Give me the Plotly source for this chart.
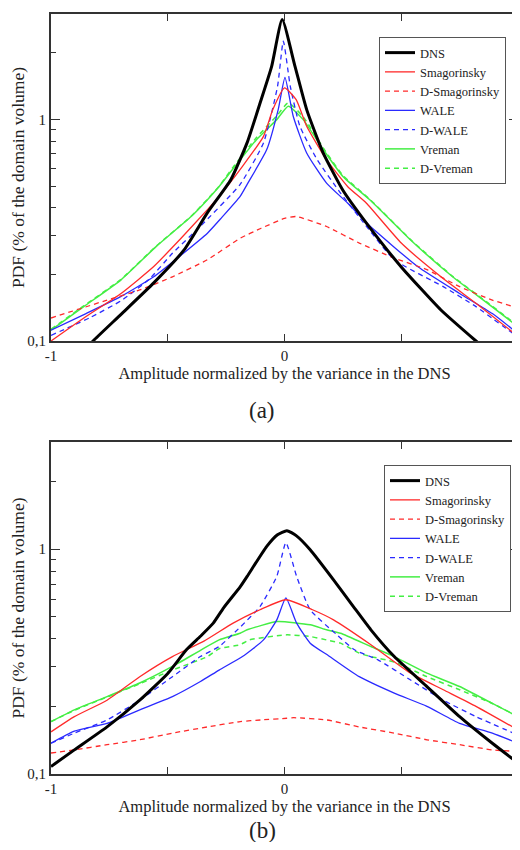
import plotly.graph_objects as go

# ---------------- data: panel (a) ----------------
dns_a_x = [-0.85, -0.82, -0.70, -0.56, -0.43, -0.33, -0.23, -0.16, -0.10, -0.055, -0.01, 0.045, 0.095, 0.165, 0.25, 0.35, 0.50, 0.67, 0.82, 0.85]
dns_a_y = [0.092, 0.100, 0.132, 0.183, 0.258, 0.380, 0.535, 0.787, 1.23, 1.74, 2.83, 1.74, 1.11, 0.71, 0.48, 0.342, 0.216, 0.138, 0.100, 0.094]

smag_a_x = [-1.0, -0.85, -0.70, -0.56, -0.45, -0.33, -0.28, -0.18, -0.09, -0.05, 0.0, 0.05, 0.095, 0.18, 0.27, 0.35, 0.50, 0.67, 0.82, 1.0]
smag_a_y = [0.100, 0.129, 0.164, 0.217, 0.286, 0.392, 0.45, 0.615, 0.84, 1.11, 1.39, 1.23, 0.933, 0.659, 0.499, 0.42, 0.277, 0.195, 0.148, 0.105]

dsmag_a_x = [-1.0, -0.76, -0.62, -0.48, -0.33, -0.19, -0.10, 0.0, 0.05, 0.18, 0.32, 0.47, 0.61, 0.75, 0.89, 1.0]
dsmag_a_y = [0.127, 0.153, 0.170, 0.195, 0.233, 0.291, 0.323, 0.358, 0.365, 0.329, 0.277, 0.237, 0.210, 0.176, 0.153, 0.141]

wale_a_x = [-1.0, -0.85, -0.70, -0.56, -0.45, -0.33, -0.27, -0.19, -0.16, -0.076, -0.027, 0.002, 0.038, 0.095, 0.18, 0.27, 0.36, 0.57, 0.75, 0.89, 1.0]
wale_a_y = [0.112, 0.133, 0.159, 0.195, 0.241, 0.307, 0.36, 0.45, 0.51, 0.732, 1.11, 1.55, 1.03, 0.707, 0.517, 0.42, 0.335, 0.217, 0.164, 0.133, 0.108]

dwale_a_x = [-1.0, -0.83, -0.70, -0.58, -0.48, -0.36, -0.19, -0.09, -0.03, -0.005, 0.025, 0.066, 0.14, 0.24, 0.34, 0.47, 0.68, 0.82, 1.0]
dwale_a_y = [0.106, 0.128, 0.152, 0.19, 0.249, 0.33, 0.51, 0.785, 1.41, 2.26, 1.41, 0.933, 0.659, 0.466, 0.341, 0.233, 0.176, 0.143, 0.104]

vrem_a_x = [-1.0, -0.86, -0.70, -0.55, -0.40, -0.33, -0.28, -0.22, -0.12, -0.033, 0.016, 0.08, 0.166, 0.25, 0.37, 0.54, 0.72, 0.87, 1.0]
vrem_a_y = [0.112, 0.143, 0.189, 0.267, 0.365, 0.435, 0.499, 0.60, 0.812, 1.0, 1.15, 1.0, 0.732, 0.554, 0.43, 0.286, 0.195, 0.148, 0.116]

dvrem_a_x = [-1.0, -0.86, -0.70, -0.55, -0.40, -0.33, -0.28, -0.22, -0.12, -0.033, 0.016, 0.08, 0.166, 0.25, 0.37, 0.54, 0.72, 0.87, 1.0]
dvrem_a_y = [0.113, 0.144, 0.190, 0.268, 0.366, 0.437, 0.50, 0.61, 0.83, 1.04, 1.19, 1.03, 0.745, 0.56, 0.432, 0.287, 0.196, 0.149, 0.117]

# ---------------- data: panel (b) ----------------
dns_b_x = [-1.0, -0.90, -0.76, -0.62, -0.50, -0.42, -0.36, -0.305, -0.26, -0.19, -0.16, -0.076, -0.03, 0.01, 0.05, 0.11, 0.21, 0.295, 0.37, 0.47, 0.61, 0.75, 0.89, 1.0]
dns_b_y = [0.108, 0.128, 0.162, 0.213, 0.28, 0.357, 0.41, 0.469, 0.55, 0.68, 0.757, 1.03, 1.16, 1.21, 1.15, 0.995, 0.731, 0.556, 0.438, 0.333, 0.245, 0.18, 0.137, 0.112]

smag_b_x = [-1.0, -0.90, -0.76, -0.62, -0.48, -0.345, -0.22, -0.105, 0.006, 0.12, 0.21, 0.37, 0.54, 0.68, 0.82, 1.0]
smag_b_y = [0.154, 0.18, 0.213, 0.271, 0.333, 0.39, 0.469, 0.538, 0.596, 0.538, 0.485, 0.376, 0.281, 0.237, 0.2, 0.157]

dsmag_b_x = [-1.0, -0.90, -0.76, -0.62, -0.48, -0.33, -0.19, -0.10, 0.01, 0.04, 0.18, 0.32, 0.47, 0.61, 0.75, 0.89, 1.0]
dsmag_b_y = [0.124, 0.128, 0.135, 0.142, 0.152, 0.162, 0.171, 0.174, 0.177, 0.178, 0.174, 0.162, 0.152, 0.142, 0.135, 0.128, 0.126]

wale_b_x = [-1.0, -0.90, -0.76, -0.62, -0.48, -0.36, -0.28, -0.18, -0.09, -0.033, 0.006, 0.052, 0.11, 0.19, 0.32, 0.47, 0.61, 0.75, 0.89, 1.0]
wale_b_y = [0.137, 0.155, 0.168, 0.193, 0.221, 0.258, 0.29, 0.333, 0.395, 0.485, 0.607, 0.469, 0.382, 0.335, 0.271, 0.229, 0.2, 0.168, 0.152, 0.137]

dwale_b_x = [-1.0, -0.90, -0.76, -0.62, -0.48, -0.36, -0.28, -0.19, -0.105, -0.033, 0.006, 0.052, 0.11, 0.22, 0.30, 0.40, 0.54, 0.68, 0.82, 1.0]
dwale_b_y = [0.137, 0.152, 0.174, 0.213, 0.271, 0.333, 0.369, 0.45, 0.556, 0.757, 1.07, 0.757, 0.538, 0.42, 0.357, 0.322, 0.262, 0.213, 0.18, 0.149]

vrem_b_x = [-1.0, -0.90, -0.76, -0.62, -0.48, -0.36, -0.28, -0.19, -0.16, -0.03, 0.11, 0.18, 0.24, 0.37, 0.47, 0.61, 0.75, 0.89, 1.0]
vrem_b_y = [0.171, 0.193, 0.221, 0.254, 0.301, 0.355, 0.395, 0.423, 0.438, 0.477, 0.461, 0.438, 0.423, 0.369, 0.333, 0.281, 0.245, 0.206, 0.18]

dvrem_b_x = [-1.0, -0.90, -0.76, -0.62, -0.48, -0.33, -0.28, -0.19, -0.15, 0.01, 0.11, 0.18, 0.24, 0.32, 0.37, 0.47, 0.61, 0.75, 0.89, 1.0]
dvrem_b_y = [0.171, 0.192, 0.220, 0.252, 0.29, 0.333, 0.361, 0.376, 0.395, 0.416, 0.409, 0.395, 0.382, 0.345, 0.333, 0.315, 0.271, 0.237, 0.206, 0.18]

names = ["DNS", "Smagorinsky", "D-Smagorinsky", "WALE", "D-WALE", "Vreman", "D-Vreman"]
x_ticks = [-1, -0.5, 0, 0.5, 1]
x_ticktext = ["-1", "", "0", "", "1"]
y_major = [0.1, 1]
y_major_text = ["0,1", "1"]
y_minor = [0.2, 0.3, 0.4, 0.5, 0.6, 0.7, 0.8, 0.9, 2, 3]

RED = "#ff2a2a"
BLUE = "#2a2aff"
GREEN = "#44ee44"
styles = [
    dict(color="black", width=3, dash="solid"),
    dict(color=RED, width=1.3, dash="solid"),
    dict(color=RED, width=1.3, dash="5px,4px"),
    dict(color=BLUE, width=1.3, dash="solid"),
    dict(color=BLUE, width=1.3, dash="5px,4px"),
    dict(color=GREEN, width=1.5, dash="solid"),
    dict(color=GREEN, width=1.5, dash="5px,4px"),
]

panel_a = [(dns_a_x, dns_a_y), (smag_a_x, smag_a_y), (dsmag_a_x, dsmag_a_y),
           (wale_a_x, wale_a_y), (dwale_a_x, dwale_a_y), (vrem_a_x, vrem_a_y), (dvrem_a_x, dvrem_a_y)]
panel_b = [(dns_b_x, dns_b_y), (smag_b_x, smag_b_y), (dsmag_b_x, dsmag_b_y),
           (wale_b_x, wale_b_y), (dwale_b_x, dwale_b_y), (vrem_b_x, vrem_b_y), (dvrem_b_x, dvrem_b_y)]

fig = go.Figure()
order = [6, 5, 4, 3, 2, 1, 0]  # DNS drawn last (on top)
for i in order:
    x, y = panel_a[i]
    fig.add_trace(go.Scatter(x=x, y=y, mode="lines", name=names[i], line=dict(shape="spline", smoothing=0.5, **styles[i]),
                             xaxis="x", yaxis="y", legend="legend", legendrank=i))
for i in order:
    x, y = panel_b[i]
    fig.add_trace(go.Scatter(x=x, y=y, mode="lines", name=names[i], line=dict(shape="spline", smoothing=0.5, **styles[i]),
                             xaxis="x2", yaxis="y2", legend="legend2", legendrank=i))

FONT = "Liberation Serif"
AX = "#333333"
xcommon = dict(range=[-1, 1], tickvals=x_ticks, ticktext=x_ticktext, ticks="inside", ticklen=7,
               tickwidth=1, tickcolor=AX, showline=True, linecolor=AX, linewidth=2, mirror="allticks",
               showgrid=False, zeroline=False, automargin=False,
               tickfont=dict(family=FONT, size=15, color="#222"),
               title=dict(text="Amplitude normalized by the variance in the DNS",
                          font=dict(family=FONT, size=16.5, color="#222"), standoff=0))
ycommon = dict(type="log", range=[-1, 0.4771], tickvals=y_major, ticktext=y_major_text, ticks="inside",
               ticklen=9, tickwidth=1, tickcolor=AX, showline=True, linecolor=AX, linewidth=2,
               mirror="allticks", showgrid=False, zeroline=False, automargin=False,
               minor=dict(tickmode="array", tickvals=y_minor, ticks="inside", ticklen=5, tickcolor=AX, showgrid=False),
               tickfont=dict(family=FONT, size=15, color="#222"),
               title=dict(text="PDF (% of the domain volume)", font=dict(family=FONT, size=17.5, color="#222"),
                          standoff=0))

# page has an 8px body margin, so the figure is sized/offset to compensate
OFF = 8
W, H = 520 - OFF, 850 - 2 * OFF
plot_h = 774 - 14
fig.update_layout(
    width=W, height=H,
    margin=dict(l=51 - OFF, r=W - (518 - OFF), t=14 - OFF, b=H - (774 - OFF)),
    paper_bgcolor="white", plot_bgcolor="white",
    xaxis=dict(domain=[0, 1], anchor="y", **xcommon),
    yaxis=dict(domain=[(774 - 341) / plot_h, 1], anchor="x", **ycommon),
    xaxis2=dict(domain=[0, 1], anchor="y2", **xcommon),
    yaxis2=dict(domain=[0, (774 - 442) / plot_h], anchor="x2", **ycommon),
    legend=dict(x=(379 - 51) / 467, y=(774 - 37) / plot_h, xanchor="left", yanchor="top", bgcolor="white",
                bordercolor="#555", borderwidth=1, font=dict(family=FONT, size=12.5, color="#222"),
                itemwidth=30, tracegroupgap=0),
    legend2=dict(x=(384 - 51) / 467, y=(774 - 465) / plot_h, xanchor="left", yanchor="top", bgcolor="white",
                 bordercolor="#555", borderwidth=1, font=dict(family=FONT, size=12.5, color="#222"),
                 itemwidth=30, tracegroupgap=0),
    annotations=[
        dict(text="(a)", x=(262 - 51) / 467, xref="paper", y=(774 - 410) / plot_h, yref="paper",
             yanchor="middle", showarrow=False, font=dict(family=FONT, size=23, color="#222")),
        dict(text="(b)", x=(262 - 51) / 467, xref="paper", y=(774 - 830) / plot_h, yref="paper",
             yanchor="middle", showarrow=False, font=dict(family=FONT, size=23, color="#222")),
    ],
)

fig.write_html("out.html")
